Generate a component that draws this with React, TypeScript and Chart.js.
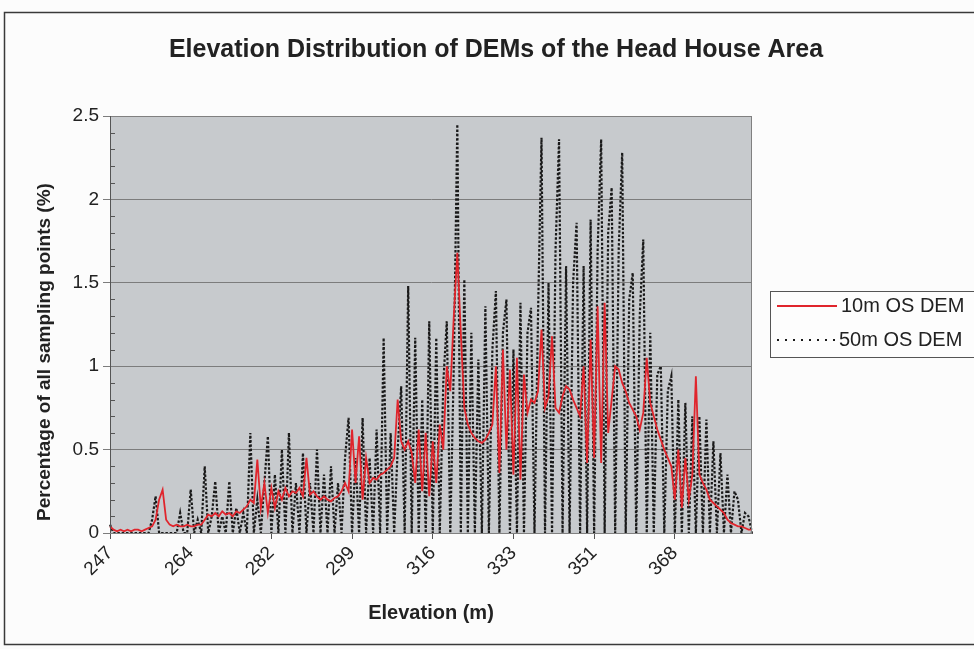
import React, { useEffect, useRef } from "react";
import { Chart, registerables } from "chart.js";

Chart.register(...registerables);

// Elevation bins (m): start and bin width
const ELEV_START = 247;
const ELEV_STEP = 0.75;

// Percentage of all sampling points (%) - 10m OS DEM
const dem10m = [
  0.04, 0.02, 0.01, 0.02, 0.01, 0.02, 0.01, 0.02, 0.02, 0.01,
  0.02, 0.03, 0.04, 0.08, 0.2, 0.26, 0.08, 0.05, 0.04, 0.05,
  0.04, 0.04, 0.05, 0.04, 0.04, 0.05, 0.05, 0.08, 0.11, 0.1,
  0.12, 0.1, 0.13, 0.11, 0.12, 0.1, 0.13, 0.12, 0.14, 0.16,
  0.2, 0.18, 0.44, 0.15, 0.3, 0.12, 0.27, 0.15, 0.25, 0.2,
  0.27, 0.22, 0.25, 0.24, 0.27, 0.22, 0.45, 0.23, 0.25, 0.22,
  0.2, 0.22, 0.2, 0.19, 0.21, 0.22, 0.25, 0.3, 0.25, 0.62,
  0.3, 0.58, 0.2, 0.45, 0.3, 0.33, 0.32, 0.35, 0.36, 0.38,
  0.4, 0.45, 0.8, 0.55, 0.5, 0.55, 0.48, 0.3, 0.62, 0.25,
  0.6, 0.22, 0.55, 0.3, 0.65, 0.5, 1.0, 0.85, 1.3, 1.68,
  1.2, 0.75, 0.65, 0.6, 0.57, 0.55, 0.54, 0.56, 0.6, 0.65,
  1.0, 0.36, 1.1, 0.5, 0.98, 0.35, 1.05, 0.32, 0.95, 0.72,
  0.8, 0.78, 0.85, 1.22, 0.75, 0.82, 1.18, 0.75, 0.72, 0.82,
  0.88, 0.86, 0.8, 0.75, 0.7, 1.0, 0.42, 1.16, 0.45, 1.36,
  0.42, 1.38, 0.6, 0.8, 1.0, 0.98, 0.9, 0.85, 0.78, 0.74,
  0.7, 0.62, 0.72, 1.05, 0.78, 0.7, 0.62, 0.56, 0.5, 0.45,
  0.4, 0.2, 0.5, 0.15, 0.45, 0.2, 0.35, 0.94, 0.35, 0.3,
  0.26, 0.2, 0.18, 0.16, 0.14, 0.12, 0.08, 0.06, 0.05, 0.04,
  0.04, 0.03, 0.02, 0.02,
];

// Percentage of all sampling points (%) - 50m OS DEM
const dem50m = [
  0.05, 0, 0, 0, 0, 0, 0, 0, 0, 0,
  0, 0, 0.08, 0.22, 0, 0, 0, 0, 0, 0,
  0.12, 0, 0, 0.26, 0, 0.08, 0, 0.4, 0, 0.1,
  0.31, 0, 0.1, 0, 0.31, 0, 0.15, 0, 0.12, 0,
  0.6, 0, 0.2, 0, 0.3, 0.58, 0, 0.35, 0, 0.5,
  0, 0.6, 0, 0.3, 0, 0.48, 0, 0.3, 0, 0.5,
  0, 0.35, 0, 0.4, 0, 0.3, 0, 0.45, 0.69, 0,
  0.45, 0, 0.69, 0, 0.45, 0, 0.62, 0, 1.17, 0,
  0.6, 0, 0.5, 0.88, 0, 1.48, 0, 1.17, 0, 0.8,
  0, 1.27, 0, 1.17, 0, 0.9, 1.27, 0, 1.0, 2.45,
  0, 1.52, 0, 1.2, 0, 1.04, 0, 1.36, 0, 1.1,
  1.45, 0, 1.2, 1.4, 0, 1.1, 0, 1.38, 0, 1.2,
  1.35, 0, 1.3, 2.37, 0, 1.5, 0, 1.7, 2.36, 0,
  1.6, 0, 1.5, 1.86, 0, 1.6, 0, 1.88, 0, 1.7,
  2.36, 0, 1.8, 2.07, 0, 1.7, 2.28, 0, 1.4, 1.56,
  0, 1.3, 1.76, 0, 1.2, 0, 0.95, 1.0, 0, 0.85,
  0.94, 0, 0.8, 0, 0.78, 0, 0.7, 0, 0.7, 0,
  0.68, 0, 0.55, 0, 0.48, 0, 0.35, 0, 0.25, 0.2,
  0, 0.12, 0.1, 0,
];

// Axis tick labels, shown every TICK_EVERY categories
const xTickLabels = ["247", "264", "282", "299", "316", "333", "351", "368"];
const TICK_EVERY = 23;
const yTickLabels = ["0", "0.5", "1", "1.5", "2", "2.5"];

const categories = dem10m.map((_, i) => (ELEV_START + ELEV_STEP * i).toFixed(2));

const seriesNames = ["10m OS DEM", "50m OS DEM"];
const RED = "#e0252c";
const DOT = "#1a1a1a";
const FONT = '"Liberation Sans", Arial, sans-serif';

const decorPlugin = {
  id: "decor",
  beforeDraw(chart: any) {
    const { ctx, chartArea: a, width, height } = chart;
    ctx.save();
    ctx.fillStyle = "#fcfcfc";
    ctx.fillRect(0, 0, width, height);
    ctx.strokeStyle = "#3a3a3a";
    ctx.lineWidth = 1.5;
    ctx.strokeRect(4.5, 12.5, width + 20, 632);
    ctx.fillStyle = "#c7cacd";
    ctx.fillRect(a.left, a.top, a.right - a.left, a.bottom - a.top);
    ctx.restore();
  },
  afterDraw(chart: any) {
    const { ctx, chartArea: a, scales } = chart;
    const y = scales.y;
    ctx.save();
    // plot border
    ctx.strokeStyle = "#808080";
    ctx.lineWidth = 1;
    ctx.strokeRect(a.left + 0.5, a.top + 0.5, a.right - a.left - 1, a.bottom - a.top);
    // y axis line
    ctx.strokeStyle = "#555";
    ctx.beginPath();
    ctx.moveTo(a.left + 0.5, a.top);
    ctx.lineTo(a.left + 0.5, a.bottom);
    ctx.stroke();
    // minor ticks on y
    for (let k = 1; k < 25; k++) {
      if (k % 5 === 0) continue;
      const py = Math.round(y.getPixelForValue(k / 10)) + 0.5;
      ctx.beginPath();
      ctx.moveTo(a.left, py);
      ctx.lineTo(a.left + 5, py);
      ctx.stroke();
    }
    // title
    ctx.fillStyle = "#222";
    ctx.textAlign = "center";
    ctx.textBaseline = "middle";
    ctx.font = `bold 25px ${FONT}`;
    ctx.fillText("Elevation Distribution of DEMs of the Head House Area", 496, 50);
    // x title
    ctx.font = `bold 20px ${FONT}`;
    ctx.fillText("Elevation (m)", (a.left + a.right) / 2, 613);
    // y title
    ctx.save();
    ctx.translate(45, 352);
    ctx.rotate(-Math.PI / 2);
    ctx.font = `bold 19px ${FONT}`;
    ctx.fillText("Percentage of all sampling points (%)", 0, 0);
    ctx.restore();
    // legend
    ctx.fillStyle = "#fdfdfd";
    ctx.fillRect(770, 291, 220, 66);
    ctx.strokeStyle = "#555";
    ctx.lineWidth = 1;
    ctx.strokeRect(770.5, 291.5, 220, 66);
    ctx.lineWidth = 2;
    ctx.strokeStyle = RED;
    ctx.beginPath();
    ctx.moveTo(777, 306);
    ctx.lineTo(837, 306);
    ctx.stroke();
    ctx.strokeStyle = DOT;
    ctx.setLineDash([2, 6]);
    ctx.beginPath();
    ctx.moveTo(777, 340);
    ctx.lineTo(837, 340);
    ctx.stroke();
    ctx.setLineDash([]);
    ctx.fillStyle = "#222";
    ctx.textAlign = "left";
    ctx.font = `20px ${FONT}`;
    ctx.fillText(seriesNames[0], 841, 306);
    ctx.fillText(seriesNames[1], 839, 340);
    ctx.restore();
  },
};

export default function App() {
  const ref = useRef<HTMLCanvasElement>(null);
  useEffect(() => {
    if (!ref.current) return;
    const chart = new Chart(ref.current, {
      type: "line",
      data: {
        labels: categories,
        datasets: [
          {
            label: seriesNames[0],
            data: dem10m,
            borderColor: RED,
            borderWidth: 1.8,
            pointRadius: 0,
            tension: 0,
            fill: false,
            order: 0,
          },
          {
            label: seriesNames[1],
            data: dem50m,
            borderColor: DOT,
            borderWidth: 2.2,
            borderDash: [2.5, 1.8],
            pointRadius: 0,
            tension: 0,
            fill: false,
            order: 1,
          },
        ],
      },
      options: {
        responsive: false,
        animation: false,
        events: [],
        layout: { padding: { top: 116, right: 222, left: 0, bottom: 0 } },
        plugins: {
          legend: { display: false },
          title: { display: false },
          tooltip: { enabled: false },
        },
        scales: {
          x: {
            type: "category",
            offset: false,
            afterFit: (s: any) => {
              s.height = 116;
            },
            grid: {
              display: true,
              drawOnChartArea: false,
              drawTicks: true,
              tickLength: 6,
              color: "#555",
            },
            border: { display: true, color: "#555" },
            ticks: {
              autoSkip: false,
              minRotation: 45,
              maxRotation: 45,
              padding: 3,
              color: "#222",
              font: { family: FONT, size: 19 },
              callback: (_v: any, i: number) =>
                i % TICK_EVERY === 0 ? xTickLabels[i / TICK_EVERY] : null,
            },
          },
          y: {
            min: 0,
            max: 2.5,
            afterFit: (s: any) => {
              s.width = 110;
            },
            grid: {
              color: "#7c7c7c",
              lineWidth: 1,
              drawTicks: true,
              tickLength: 7,
            },
            border: { display: true, color: "#555" },
            ticks: {
              stepSize: 0.5,
              padding: 4,
              color: "#222",
              font: { family: FONT, size: 19 },
              callback: (_v: any, i: number) => yTickLabels[i],
            },
          },
        },
      },
      plugins: [decorPlugin],
    });
    return () => chart.destroy();
  }, []);
  return (
    <div style={{ position: "fixed", left: 0, top: 0, width: 974, height: 649 }}>
      <canvas ref={ref} width={974} height={649} style={{ width: 974, height: 649, display: "block" }} />
    </div>
  );
}
